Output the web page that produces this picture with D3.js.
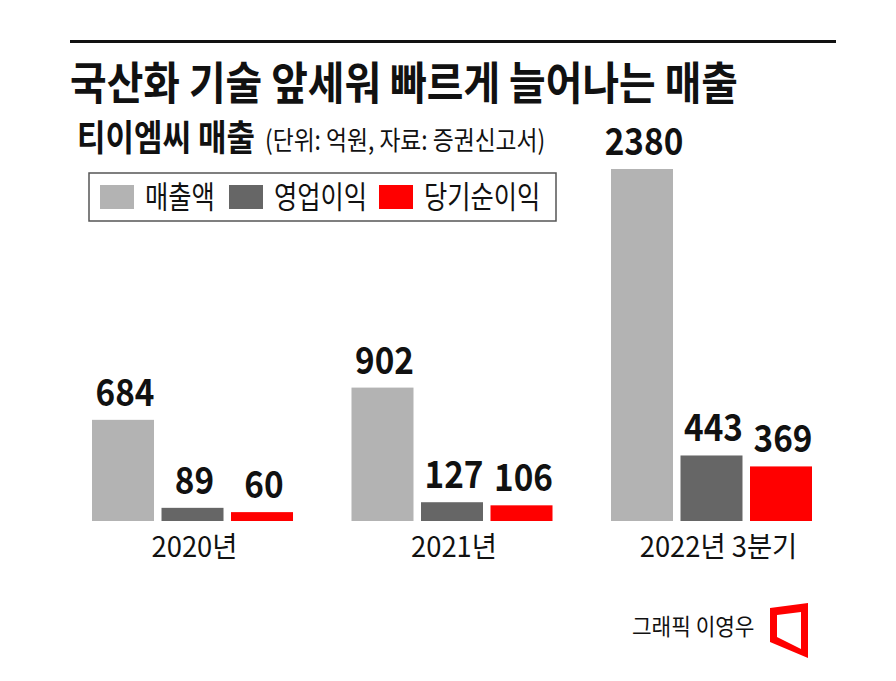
<!DOCTYPE html>
<html>
<head>
<meta charset="utf-8">
<script src="https://cdn.jsdelivr.net/npm/d3@7"></script>
<style>
  body { margin: 0; background: #fff; }
  svg { display: block; font-family: "Noto Sans CJK KR", "Noto Sans", sans-serif; }
</style>
</head>
<body>
<div id="chart"></div>
<script>
// chart data
const categories = ["2020년", "2021년", "2022년 3분기"];
const seriesNames = ["매출액", "영업이익", "당기순이익"];
const revenue = [684, 902, 2380];
const operatingProfit = [89, 127, 443];
const netProfit = [60, 106, 369];
const seriesColors = ["#b3b3b3", "#666666", "#ff0000"];

const width = 896, height = 681;
const baseY = 521;

const svg = d3.select("#chart").append("svg")
  .attr("width", width)
  .attr("height", height);

// helper: horizontally condensed text, like the original gothic face
function label(parent, txt, x, y, size, weight, sx, anchor) {
  return parent.append("text")
    .attr("transform", "translate(" + x + "," + y + ") scale(" + sx + ",1)")
    .attr("text-anchor", anchor || "start")
    .attr("font-size", size)
    .attr("font-weight", weight)
    .attr("fill", "#111")
    .text(txt);
}

// top rule
svg.append("rect")
  .attr("x", 70).attr("y", 40)
  .attr("width", 766).attr("height", 3)
  .attr("fill", "#111");

// title + subtitle
label(svg, "국산화 기술 앞세워 빠르게 늘어나는 매출", 70, 100, 45, 700, 0.885);
label(svg, "티이엠씨 매출", 77, 151, 36, 700, 0.86);
label(svg, "(단위: 억원, 자료: 증권신고서)", 265, 150, 26.5, 400, 0.86);

// legend
const legend = svg.append("g");
legend.append("rect")
  .attr("x", 89).attr("y", 173)
  .attr("width", 467).attr("height", 48)
  .attr("fill", "#fff")
  .attr("stroke", "#555")
  .attr("stroke-width", 1.5);

const legendX = [100, 229, 379];
seriesNames.forEach((name, i) => {
  legend.append("rect")
    .attr("x", legendX[i]).attr("y", 185)
    .attr("width", 34).attr("height", 24)
    .attr("fill", seriesColors[i]);
  label(legend, name, legendX[i] + 45, 208, 30.5, 400, 0.83);
});

// scales
const seriesData = [revenue, operatingProfit, netProfit];

const x0 = d3.scaleBand()
  .domain(categories)
  .range([92, 812])
  .paddingInner(0.2254)
  .paddingOuter(0);

const x1 = d3.scaleBand()
  .domain(seriesNames)
  .range([0, x0.bandwidth()])
  .paddingInner(0.108)
  .paddingOuter(0);

const y = d3.scaleLinear()
  .domain([0, 2380])
  .range([baseY, 169]);

// bars
const groups = svg.append("g").selectAll("g")
  .data(categories)
  .join("g")
  .attr("transform", d => "translate(" + x0(d) + ",0)");

groups.each(function (cat, ci) {
  const g = d3.select(this);
  const rows = seriesNames.map((s, si) => ({ s: s, v: seriesData[si][ci], c: seriesColors[si] }));

  g.selectAll("rect")
    .data(rows)
    .join("rect")
    .attr("x", d => x1(d.s))
    .attr("y", d => y(d.v))
    .attr("width", x1.bandwidth())
    .attr("height", d => baseY - y(d.v))
    .attr("fill", d => d.c);

  rows.forEach(d => {
    label(g, d3.format("d")(d.v), x1(d.s) + x1.bandwidth() / 2 + 2, y(d.v) - 14, 37, 700, 0.9, "middle");
  });

  label(g, cat, x0.bandwidth() / 2 + (ci === 2 ? 7 : 2), 557, 28.5, 400, 0.96, "middle");
});

// credit + logo
label(svg, "그래픽 이영우", 632, 635, 22.7, 400, 0.94);

svg.append("path")
  .attr("d", "M770,608 L808,603 L808,658 L770,642 Z M777,615 L801,612 L801,649 L777,637 Z")
  .attr("fill", "#ff0000")
  .attr("fill-rule", "evenodd");
</script>
</body>
</html>
